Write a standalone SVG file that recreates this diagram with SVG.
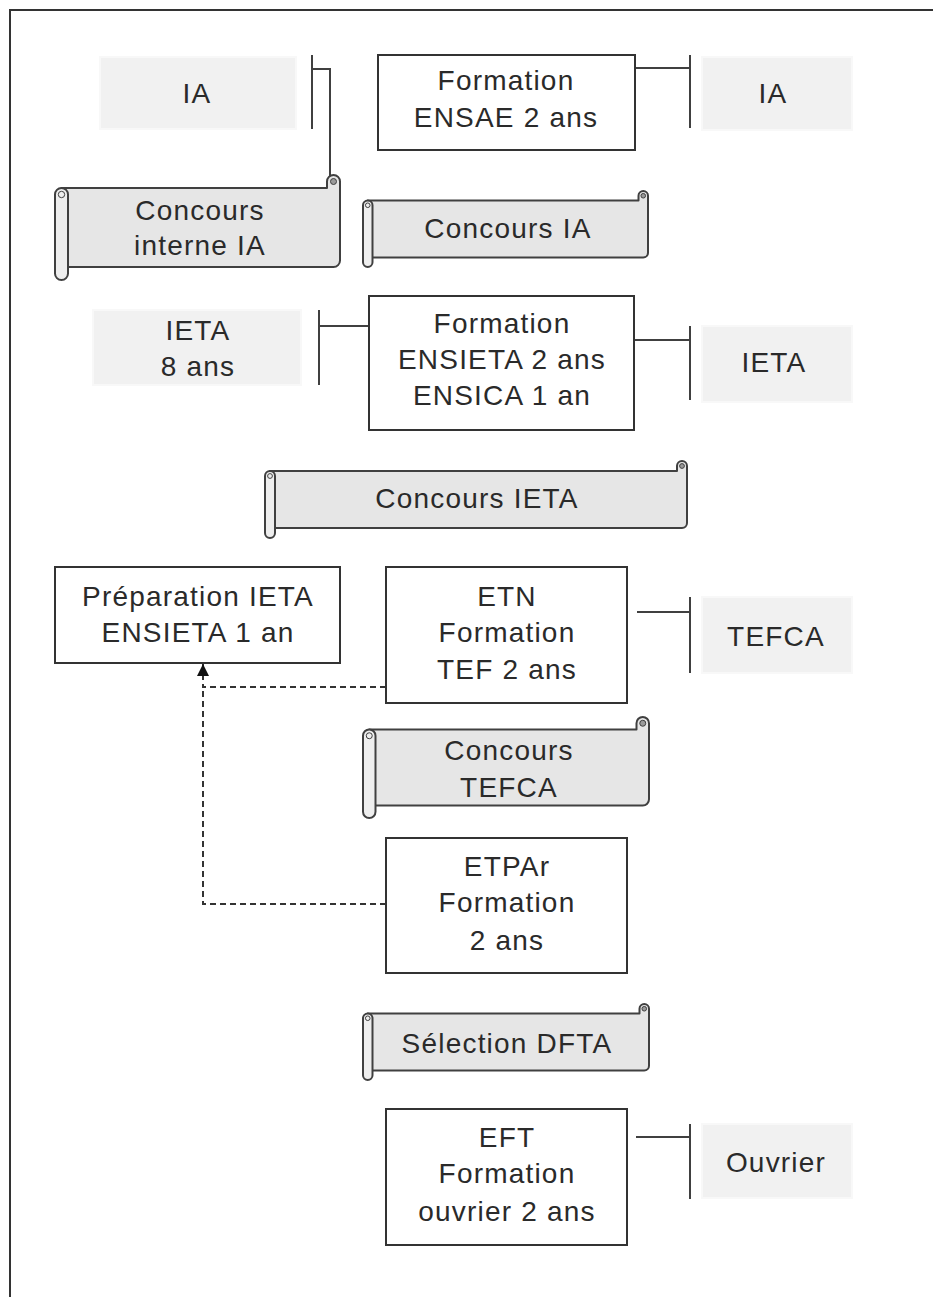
<svg xmlns="http://www.w3.org/2000/svg" width="933" height="1297" viewBox="0 0 933 1297">
<style>
text{font-family:"Liberation Sans",Arial,sans-serif;font-size:28px;fill:#2a2a2a;text-anchor:middle;letter-spacing:1.2px}
.box{fill:#fff;stroke:#333;stroke-width:2}
.gray{fill:#f1f1f1;stroke:#f8f8f8;stroke-width:2}
.body{fill:#e6e6e6;stroke:#404040;stroke-width:2;stroke-linejoin:round}
.roll{fill:#eeeeee;stroke:#404040;stroke-width:2}
.curl{fill:#9a9a9a;stroke:#404040;stroke-width:1}
.rc{fill:none;stroke:#404040;stroke-width:1}
.ln{fill:none;stroke:#404040;stroke-width:2}
.dash{fill:none;stroke:#333;stroke-width:2;stroke-dasharray:6 4}
</style>
<defs>
<marker id="arr" viewBox="0 0 10 10" refX="10" refY="5" markerWidth="6" markerHeight="6" orient="auto" markerUnits="strokeWidth">
<path d="M0 0 L10 5 L0 10 Z" fill="#111"/>
</marker>
</defs>
<rect width="933" height="1297" fill="#fff"/>
<path d="M10 1297 V10 H933" fill="none" stroke="#333" stroke-width="2"/>

<g id="connectors">
<path class="ln" d="M312 55 V129 M312 69 H330 V180"/>
<path class="ln" d="M635 68 H690 M690 55 V128"/>
<path class="ln" d="M319 310 V385 M319 326 H369"/>
<path class="ln" d="M634 340 H690 M690 326 V400"/>
<path class="ln" d="M637 612 H690 M690 597 V673"/>
<path class="ln" d="M636 1137 H690 M690 1124 V1199"/>
<path class="dash" d="M386 904 H203 V687"/>
<path class="dash" d="M386 687 H203 V664" marker-end="url(#arr)"/>
</g>

<g id="ia-left"><rect class="gray" x="100" y="57" width="196" height="72"/><text x="197" y="103">IA</text></g>
<g id="ensae"><rect class="box" x="378" y="55" width="257" height="95"/><text x="506" y="90">Formation</text><text x="506" y="127">ENSAE 2 ans</text></g>
<g id="ia-right"><rect class="gray" x="702" y="57" width="150" height="73"/><text x="773" y="103">IA</text></g>

<g id="concours-interne-ia">
<path class="body" d="M61.5 188 L327 188 L327 181.5 A6.5 6.5 0 0 1 340 181.5 L340 260.5 A6.5 6.5 0 0 1 333.5 267 L61.5 267 Z"/>
<circle class="curl" cx="333.5" cy="181.5" r="3"/>
<rect class="roll" x="55" y="188" width="13" height="92" rx="6.5"/>
<circle class="rc" cx="61.5" cy="194.5" r="3.2"/>
<text x="200" y="220">Concours</text><text x="200" y="255">interne IA</text>
</g>

<g id="concours-ia">
<path class="body" d="M367.75 200.5 L638.5 200.5 L638.5 195.75 A4.75 4.75 0 0 1 648 195.75 L648 252.75 A4.75 4.75 0 0 1 643.25 257.5 L367.75 257.5 Z"/>
<circle class="curl" cx="643.25" cy="195.75" r="2.3"/>
<rect class="roll" x="363" y="200.5" width="9.5" height="66.5" rx="4.75"/>
<circle class="rc" cx="367.75" cy="205.25" r="2.3"/>
<text x="508" y="238">Concours IA</text>
</g>

<g id="ieta-8"><rect class="gray" x="93" y="310" width="208" height="75"/><text x="198" y="340">IETA</text><text x="198" y="376">8 ans</text></g>
<g id="ensieta"><rect class="box" x="369" y="296" width="265" height="134"/><text x="502" y="333">Formation</text><text x="502" y="369">ENSIETA 2 ans</text><text x="502" y="405">ENSICA 1 an</text></g>
<g id="ieta-right"><rect class="gray" x="702" y="326" width="150" height="76"/><text x="774" y="372">IETA</text></g>

<g id="concours-ieta">
<path class="body" d="M270 471 L677 471 L677 466 A5 5 0 0 1 687 466 L687 523 A5 5 0 0 1 682 528 L270 528 Z"/>
<circle class="curl" cx="682" cy="466" r="2.4"/>
<rect class="roll" x="265" y="471" width="10" height="67" rx="5"/>
<circle class="rc" cx="270" cy="476" r="2.4"/>
<text x="477" y="508">Concours IETA</text>
</g>

<g id="preparation"><rect class="box" x="55" y="567" width="285" height="96"/><text x="198" y="606">Préparation IETA</text><text x="198" y="642">ENSIETA 1 an</text></g>
<g id="etn"><rect class="box" x="386" y="567" width="241" height="136"/><text x="507" y="606">ETN</text><text x="507" y="642">Formation</text><text x="507" y="679">TEF 2 ans</text></g>
<g id="tefca"><rect class="gray" x="702" y="597" width="150" height="76"/><text x="776" y="646">TEFCA</text></g>

<g id="concours-tefca">
<path class="body" d="M369.25 729.5 L636.5 729.5 L636.5 723.25 A6.25 6.25 0 0 1 649 723.25 L649 799.25 A6.25 6.25 0 0 1 642.75 805.5 L369.25 805.5 Z"/>
<circle class="curl" cx="642.75" cy="723.25" r="3"/>
<rect class="roll" x="363" y="729.5" width="12.5" height="88.5" rx="6.25"/>
<circle class="rc" cx="369.25" cy="735.75" r="3"/>
<text x="509" y="760">Concours</text><text x="509" y="797">TEFCA</text>
</g>

<g id="etpar"><rect class="box" x="386" y="838" width="241" height="135"/><text x="507" y="876">ETPAr</text><text x="507" y="912">Formation</text><text x="507" y="950">2 ans</text></g>

<g id="selection-dfta">
<path class="body" d="M367.75 1013.5 L639.5 1013.5 L639.5 1008.75 A4.75 4.75 0 0 1 649 1008.75 L649 1065.75 A4.75 4.75 0 0 1 644.25 1070.5 L367.75 1070.5 Z"/>
<circle class="curl" cx="644.25" cy="1008.75" r="2.3"/>
<rect class="roll" x="363" y="1013.5" width="9.5" height="66.5" rx="4.75"/>
<circle class="rc" cx="367.75" cy="1018.25" r="2.3"/>
<text x="507" y="1053">Sélection DFTA</text>
</g>

<g id="eft"><rect class="box" x="386" y="1109" width="241" height="136"/><text x="507" y="1147">EFT</text><text x="507" y="1183">Formation</text><text x="507" y="1221">ouvrier 2 ans</text></g>
<g id="ouvrier"><rect class="gray" x="702" y="1124" width="150" height="74"/><text x="776" y="1172">Ouvrier</text></g>
</svg>
